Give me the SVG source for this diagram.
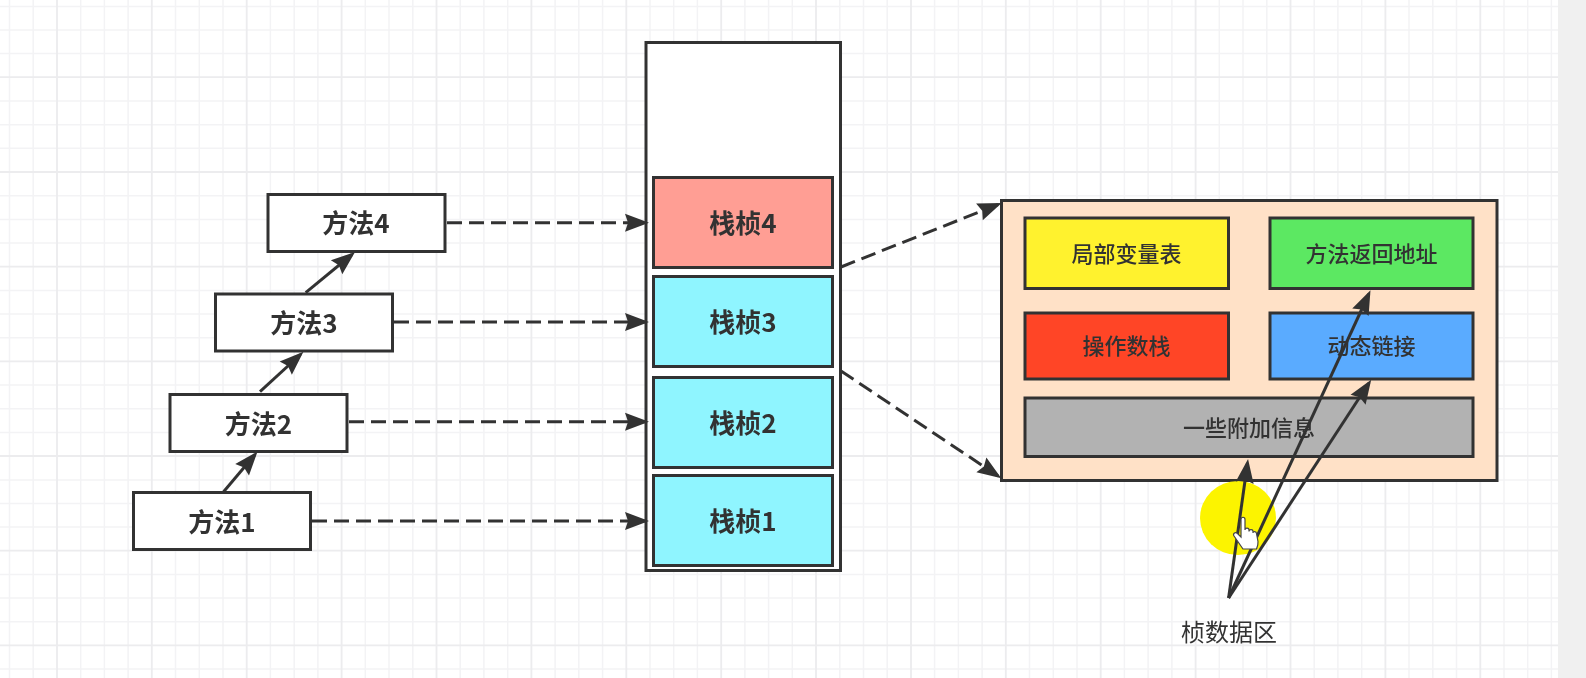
<svg xmlns="http://www.w3.org/2000/svg" width="1586" height="678" viewBox="0 0 1586 678">
<style>
.box{stroke:#333;stroke-width:3}
.t{font-family:"Noto Sans CJK SC","Liberation Sans",sans-serif;text-anchor:middle;dominant-baseline:central;fill:#333}
.m{font-size:26px;font-weight:700}
.s{font-size:22px;font-weight:500}
.f{font-size:26px;font-weight:700}
.dash{fill:none;stroke:#333;stroke-width:3;stroke-dasharray:15 7;marker-end:url(#arrow)}
.solid{fill:none;stroke:#333;stroke-width:3;marker-end:url(#arrow)}
</style>
<defs>
<marker id="arrow" markerUnits="userSpaceOnUse" markerWidth="26" markerHeight="20" viewBox="0 0 26 20" refX="21" refY="10" orient="auto"><path d="M1,1L25,10L1,19L4,10Z" fill="#333"/></marker>
<filter id="soft" x="0" y="0" width="100%" height="100%"><feGaussianBlur stdDeviation="0.55"/></filter>
</defs>
<g filter="url(#soft)">
<g id="background">
<rect width="1586" height="678" fill="#fff"/>
<path fill="none" stroke="#f3f3f5" stroke-width="1.5" d="M9.5 0V678M33.2 0V678M80.7 0V678M104.4 0V678M128.1 0V678M175.5 0V678M199.3 0V678M223 0V678M270.4 0V678M294.2 0V678M317.9 0V678M365.3 0V678M389 0V678M412.8 0V678M460.2 0V678M483.9 0V678M507.7 0V678M555.1 0V678M578.8 0V678M602.6 0V678M650 0V678M673.7 0V678M697.4 0V678M744.9 0V678M768.6 0V678M792.3 0V678M839.8 0V678M863.5 0V678M887.2 0V678M934.6 0V678M958.4 0V678M982.1 0V678M1029.5 0V678M1053.3 0V678M1077 0V678M1124.4 0V678M1148.1 0V678M1171.9 0V678M1219.3 0V678M1243 0V678M1266.8 0V678M1314.2 0V678M1337.9 0V678M1361.7 0V678M1409 0V678M1432.8 0V678M1456.5 0V678M1504 0V678M1527.7 0V678M1551.4 0V678M0 6.5H1558M0 30H1558M0 53.5H1558M0 101H1558M0 124.7H1558M0 148.3H1558M0 195.7H1558M0 219.4H1558M0 243H1558M0 290.5H1558M0 314H1558M0 337.8H1558M0 385H1558M0 408.8H1558M0 432.5H1558M0 480H1558M0 503.5H1558M0 527H1558M0 574.5H1558M0 598H1558M0 621.7H1558M0 669H1558"/>
<path fill="none" stroke="#ececee" stroke-width="1.8" d="M57 0V678M151.8 0V678M246.7 0V678M341.6 0V678M436.5 0V678M531.4 0V678M626.3 0V678M721.2 0V678M816 0V678M911 0V678M1005.8 0V678M1100.7 0V678M1195.6 0V678M1290.5 0V678M1385.4 0V678M1480.3 0V678M0 77.2H1558M0 172H1558M0 266.7H1558M0 361.4H1558M0 456H1558M0 550.7H1558M0 645.4H1558"/>
<rect x="1558" width="28" height="678" fill="#f0f0f0"/>
</g>
<g id="stack"><rect class="box" x="646" y="42.5" width="194.500" height="528" fill="#fff"/></g>
<g id="frame4"><rect class="box" x="653.500" y="177.500" width="179" height="90" fill="#ff9e94"/><text class="t f" x="743" y="221">栈桢4</text></g>
<g id="frame3"><rect class="box" x="653.500" y="276.500" width="179" height="90" fill="#8ff5ff"/><text class="t f" x="743" y="320">栈桢3</text></g>
<g id="frame2"><rect class="box" x="653.500" y="377.500" width="179" height="90" fill="#8ff5ff"/><text class="t f" x="743" y="421">栈桢2</text></g>
<g id="frame1"><rect class="box" x="653.500" y="475.500" width="179" height="90" fill="#8ff5ff"/><text class="t f" x="743" y="519">栈桢1</text></g>
<g id="method4"><rect class="box" x="268" y="194.500" width="177" height="57" fill="#fff"/><text class="t m" x="356" y="221">方法4</text></g>
<g id="method3"><rect class="box" x="215.500" y="294" width="177" height="57" fill="#fff"/><text class="t m" x="304" y="321">方法3</text></g>
<g id="method2"><rect class="box" x="170" y="394.500" width="177" height="57" fill="#fff"/><text class="t m" x="258.500" y="422">方法2</text></g>
<g id="method1"><rect class="box" x="133.500" y="492.500" width="177" height="57" fill="#fff"/><text class="t m" x="222" y="520">方法1</text></g>
<g id="data-frame"><rect class="box" x="1001.500" y="200.500" width="495.500" height="280" fill="#ffe1c7"/></g>
<g id="locals"><rect class="box" x="1025" y="218" width="203.500" height="70.500" fill="#fff22d"/><text class="t s" x="1126.500" y="252">局部变量表</text></g>
<g id="return-address"><rect class="box" x="1270" y="218" width="203" height="70.500" fill="#5ce862"/><text class="t s" x="1371.500" y="252">方法返回地址</text></g>
<g id="operand-stack"><rect class="box" x="1025" y="313" width="203.500" height="66" fill="#ff4528"/><text class="t s" x="1126.500" y="344">操作数栈</text></g>
<g id="dynamic-link"><rect class="box" x="1270" y="313" width="203" height="66" fill="#5aabff"/><text class="t s" x="1371.500" y="344">动态链接</text></g>
<g id="extra-info"><rect class="box" x="1025" y="398" width="448" height="58.500" fill="#b2b2b2"/><text class="t s" x="1249" y="426">一些附加信息</text></g>
<g id="highlight"><ellipse cx="1238" cy="518" rx="38" ry="37" fill="#fcf400"/></g>
<g id="data-label"><text class="t" x="1229" y="630" style="font-size:24px;font-weight:400">桢数据区</text></g>
<g id="connectors">
<path class="dash" d="M447 222.700H645"/>
<path class="dash" d="M394 322H645"/>
<path class="dash" d="M349 421.700H645"/>
<path class="dash" d="M312 521H645"/>
<path class="dash" d="M841 267L998 204.500"/>
<path class="dash" d="M841 371L998 476"/>
<path class="solid" d="M223.600 491.700L255 454.500"/>
<path class="solid" d="M260 391.700L300.500 354.500"/>
<path class="solid" d="M305.700 292.700L352 254.500"/>
<path class="solid" d="M1228.600 598L1247.500 463"/>
<path class="solid" d="M1228.600 598L1368.800 294"/>
<path class="solid" d="M1228.600 598L1369 383"/>
</g>
<g id="cursor" transform="translate(2.500 -1)"><path d="M1238.500 520.500c0-3 4-3 4 0v10.500c0-2.500 4-2.500 4 0v1.500c0-2.500 4-2.500 4 0v1.500c0-2 3.500-2 3.500 .5l1.500 8c.3 3-.5 5-1.500 7.500h-13.500l-9-13c-1.500-2.500 1.500-4.500 3.500-2.500l3.500 3.500z" fill="#fff" stroke="#444" stroke-width="1.200"/></g>
</g>
</svg>
